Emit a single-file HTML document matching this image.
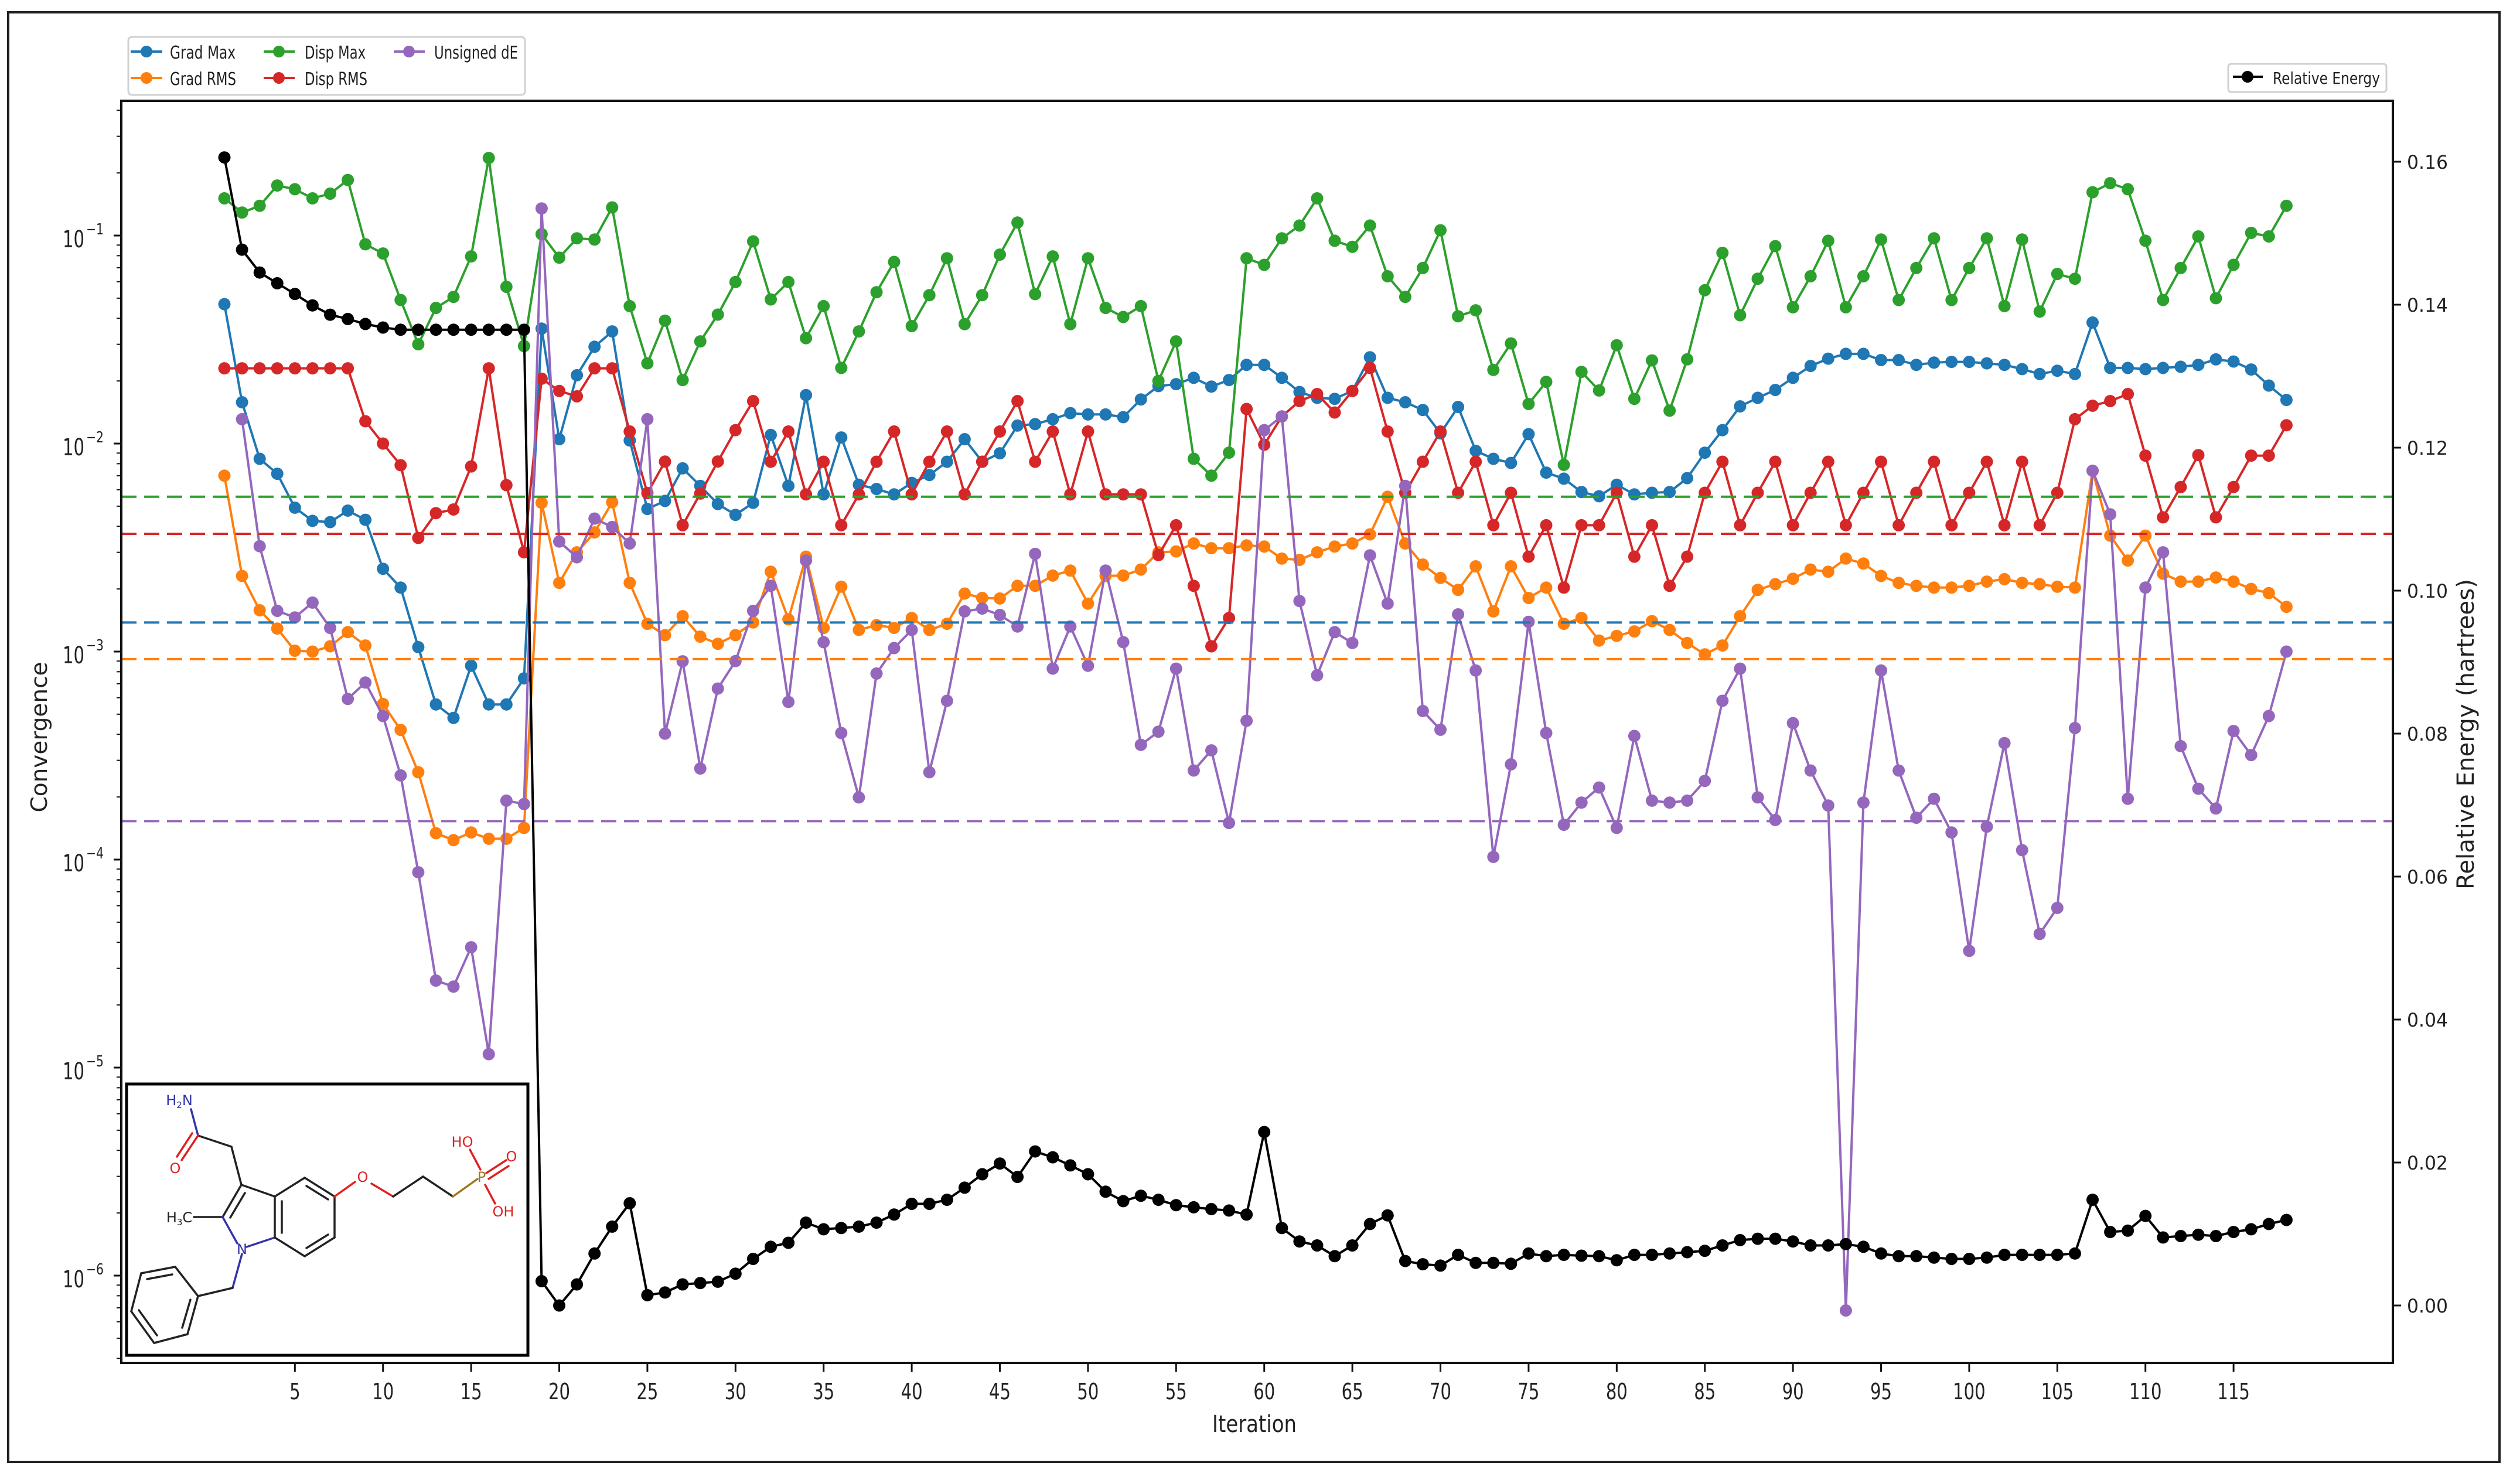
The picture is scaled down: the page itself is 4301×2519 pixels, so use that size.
<!DOCTYPE html>
<html><head><meta charset="utf-8"><title>Optimization Convergence</title>
<style>html,body{margin:0;padding:0;background:#fff}svg{display:block}text{font-family:"DejaVu Sans","Liberation Sans",sans-serif}</style>
</head><body>
<svg id="chart" xmlns="http://www.w3.org/2000/svg" width="4301" height="2519" viewBox="0 0 4301 2519">
<rect x="0" y="0" width="4301" height="2519" fill="#fff"/>
<rect x="14" y="21" width="4252" height="2474" fill="none" stroke="#222" stroke-width="4"/>
<g id="marks"></g>
<g id="axes"></g>
<text x="0" y="0" transform="translate(80,1258) rotate(-90)" font-size="38" text-anchor="middle" textLength="257" lengthAdjust="spacingAndGlyphs" fill="#222">Convergence</text>
<text x="2141" y="2444" font-size="40" text-anchor="middle" textLength="144" lengthAdjust="spacingAndGlyphs" fill="#222">Iteration</text>
<text x="0" y="0" transform="translate(4222,1253) rotate(-90)" font-size="40" text-anchor="middle" textLength="530" lengthAdjust="spacingAndGlyphs" fill="#222">Relative Energy (hartrees)</text>
<g>
<rect x="219" y="63" width="677" height="99" rx="6" fill="#fff" stroke="#d0d0d0" stroke-width="3"/>
<g><line x1="223" y1="88" x2="277" y2="88" stroke="#1f77b4" stroke-width="4"/><circle cx="250" cy="88" r="10" fill="#1f77b4"/><text x="290" y="100" font-size="30" textLength="112" lengthAdjust="spacingAndGlyphs" fill="#222">Grad Max</text></g>
<g><line x1="223" y1="133" x2="277" y2="133" stroke="#ff7f0e" stroke-width="4"/><circle cx="250" cy="133" r="10" fill="#ff7f0e"/><text x="290" y="145" font-size="30" textLength="113" lengthAdjust="spacingAndGlyphs" fill="#222">Grad RMS</text></g>
<g><line x1="450" y1="88" x2="503" y2="88" stroke="#2ca02c" stroke-width="4"/><circle cx="476" cy="88" r="10" fill="#2ca02c"/><text x="520" y="100" font-size="30" textLength="104" lengthAdjust="spacingAndGlyphs" fill="#222">Disp Max</text></g>
<g><line x1="450" y1="133" x2="503" y2="133" stroke="#d62728" stroke-width="4"/><circle cx="476" cy="133" r="10" fill="#d62728"/><text x="520" y="145" font-size="30" textLength="107" lengthAdjust="spacingAndGlyphs" fill="#222">Disp RMS</text></g>
<g><line x1="672" y1="88" x2="725" y2="88" stroke="#9467bd" stroke-width="4"/><circle cx="698" cy="88" r="10" fill="#9467bd"/><text x="741" y="100" font-size="30" textLength="143" lengthAdjust="spacingAndGlyphs" fill="#222">Unsigned dE</text></g>
</g>
<g>
<rect x="3803" y="109" width="270" height="48" rx="5" fill="#fff" stroke="#d0d0d0" stroke-width="3"/>
<g><line x1="3811" y1="131" x2="3862" y2="131" stroke="#000" stroke-width="4"/><circle cx="3836" cy="131" r="10" fill="#000"/><text x="3879" y="143" font-size="28" textLength="183" lengthAdjust="spacingAndGlyphs" fill="#222">Relative Energy</text></g>
</g>
<g>
<rect x="216" y="1850" width="685" height="463" fill="#fff" stroke="#000" stroke-width="5"/>
<g stroke="#222" stroke-width="3.5" fill="none" stroke-linecap="round">
<line x1="326" y1="1893" x2="338" y2="1938" stroke="#3333aa"/>
<line x1="338" y1="1938" x2="395" y2="1957"/>
<line x1="338" y1="1938" x2="310" y2="1980" stroke="#e02020"/>
<line x1="328" y1="1934" x2="302" y2="1974" stroke="#e02020"/>
<line x1="395" y1="1957" x2="412" y2="2022"/>
<line x1="412" y1="2022" x2="469" y2="2042"/>
<line x1="412" y1="2022" x2="380" y2="2077"/>
<line x1="418" y1="2036" x2="393" y2="2078"/>
<line x1="380" y1="2077" x2="331" y2="2077"/>
<line x1="380" y1="2077" x2="405" y2="2122" stroke="#3333aa"/>
<line x1="421" y1="2128" x2="469" y2="2112" stroke="#3333aa"/>
<line x1="469" y1="2042" x2="520" y2="2010"/>
<line x1="520" y1="2010" x2="571" y2="2042"/>
<line x1="523" y1="2024" x2="560" y2="2047"/>
<line x1="571" y1="2042" x2="571" y2="2112"/>
<line x1="571" y1="2112" x2="520" y2="2144"/>
<line x1="560" y1="2107" x2="523" y2="2130"/>
<line x1="520" y1="2144" x2="469" y2="2112"/>
<line x1="469" y1="2112" x2="469" y2="2042"/>
<line x1="481" y1="2104" x2="481" y2="2050"/>
<line x1="571" y1="2042" x2="606" y2="2017" stroke="#e02020"/>
<line x1="634" y1="2020" x2="671" y2="2042" stroke="#e02020"/>
<line x1="671" y1="2042" x2="722" y2="2008"/>
<line x1="722" y1="2008" x2="773" y2="2042"/>
<line x1="773" y1="2042" x2="815" y2="2012" stroke="#a07820"/>
<line x1="820" y1="1996" x2="802" y2="1962" stroke="#e02020"/>
<line x1="830" y1="2002" x2="864" y2="1980" stroke="#e02020"/>
<line x1="834" y1="2012" x2="868" y2="1990" stroke="#e02020"/>
<line x1="828" y1="2022" x2="845" y2="2054" stroke="#e02020"/>
<line x1="413" y1="2140" x2="397" y2="2198" stroke="#3333aa"/>
<line x1="397" y1="2198" x2="338" y2="2212"/>
<line x1="338" y1="2212" x2="299" y2="2162"/>
<line x1="299" y1="2162" x2="241" y2="2173"/>
<line x1="294" y1="2175" x2="251" y2="2183"/>
<line x1="241" y1="2173" x2="224" y2="2238"/>
<line x1="224" y1="2238" x2="263" y2="2292"/>
<line x1="237" y1="2236" x2="268" y2="2279"/>
<line x1="263" y1="2292" x2="320" y2="2277"/>
<line x1="320" y1="2277" x2="338" y2="2212"/>
<line x1="311" y1="2266" x2="325" y2="2218"/>
</g>
<g font-size="24" text-anchor="middle">
<text x="306" y="1886" fill="#3333aa">H<tspan font-size="15" dy="5">2</tspan><tspan dy="-5">N</tspan></text>
<text x="299" y="2002" fill="#e02020">O</text>
<text x="619" y="2017" fill="#e02020">O</text>
<text x="822" y="2017" fill="#a07820">P</text>
<text x="789" y="1957" fill="#e02020">HO</text>
<text x="873" y="1982" fill="#e02020">O</text>
<text x="859" y="2076" fill="#e02020">OH</text>
<text x="413" y="2140" fill="#3333aa">N</text>
<text x="306" y="2086" fill="#222">H<tspan font-size="15" dy="5">3</tspan><tspan dy="-5">C</tspan></text>
</g>
</g>
</svg>
<script>
// ---- data ----
const iterations = Array.from({length:118},(_,k)=>k+1);
const gradMax = [0.0468,0.0158,0.00845,0.00716,0.00492,0.00425,0.00419,0.00476,0.0043,0.0025,0.00203,0.00105,0.000557,0.00048,0.000855,0.000557,0.000557,0.000743,0.0357,0.0105,0.0213,0.0292,0.0346,0.01035,0.00485,0.0053,0.0076,0.00626,0.00512,0.00454,0.00519,0.011,0.00626,0.0171,0.0057,0.0107,0.00634,0.00605,0.0057,0.00647,0.00706,0.00818,0.0105,0.00818,0.00898,0.0122,0.0124,0.0131,0.014,0.0138,0.0138,0.0134,0.0163,0.0189,0.0193,0.0207,0.0188,0.0202,0.0239,0.0239,0.0207,0.0177,0.0166,0.0164,0.0179,0.026,0.0166,0.0158,0.0145,0.0112,0.015,0.00923,0.00845,0.00807,0.0111,0.00725,0.00678,0.00585,0.00558,0.00634,0.0057,0.0058,0.00585,0.00682,0.00904,0.0116,0.0151,0.0166,0.0181,0.0207,0.0236,0.0256,0.027,0.027,0.0252,0.0252,0.0239,0.0245,0.0247,0.0247,0.0243,0.0239,0.0228,0.0216,0.0224,0.0216,0.0382,0.0231,0.0231,0.0228,0.0231,0.0234,0.0239,0.0254,0.0248,0.0227,0.019,0.0162];
const gradRms = [0.00701,0.00231,0.00158,0.00129,0.00101,0.001,0.00106,0.00124,0.00107,0.00056,0.00042,0.000263,0.000134,0.000124,0.000135,0.000126,0.000126,0.000142,0.00519,0.00214,0.003,0.00374,0.00522,0.00214,0.00136,0.0012,0.00148,0.00118,0.00109,0.0012,0.00138,0.00242,0.00143,0.00286,0.0013,0.00205,0.00127,0.00134,0.0013,0.00145,0.00127,0.00136,0.0019,0.00181,0.0018,0.00207,0.00207,0.00232,0.00245,0.0017,0.00231,0.00232,0.00248,0.003,0.00303,0.00331,0.00314,0.00314,0.00324,0.0032,0.0028,0.00276,0.003,0.0032,0.00331,0.00366,0.00555,0.00331,0.00262,0.00226,0.00198,0.00257,0.00156,0.00257,0.00181,0.00203,0.00136,0.00145,0.00113,0.00119,0.00125,0.0014,0.00127,0.0011,0.00097,0.00107,0.00148,0.00198,0.00211,0.00224,0.00248,0.00242,0.0028,0.00265,0.00231,0.00214,0.00207,0.00203,0.00203,0.00207,0.00217,0.00223,0.00214,0.00211,0.00205,0.00203,0.0074,0.00361,0.00274,0.00361,0.00237,0.00217,0.00217,0.00227,0.00217,0.002,0.00191,0.00164];
const dispMax = [0.151,0.129,0.139,0.174,0.167,0.151,0.159,0.185,0.0908,0.082,0.049,0.03,0.0449,0.0507,0.0794,0.236,0.0567,0.0294,0.1016,0.0783,0.097,0.0957,0.1365,0.0458,0.0243,0.039,0.0202,0.031,0.0417,0.0598,0.0938,0.0493,0.0598,0.0321,0.0458,0.0231,0.0346,0.0534,0.0747,0.0367,0.0517,0.0778,0.0375,0.0517,0.081,0.1155,0.0523,0.0794,0.0375,0.0778,0.0449,0.0406,0.0458,0.02,0.031,0.00845,0.00701,0.00904,0.0778,0.0723,0.097,0.1117,0.151,0.0944,0.0883,0.1117,0.0637,0.0507,0.0698,0.106,0.0409,0.0437,0.0226,0.0303,0.0155,0.0198,0.0079,0.0221,0.018,0.0297,0.0164,0.0251,0.0144,0.0254,0.0546,0.0826,0.0414,0.062,0.0889,0.0452,0.0637,0.0944,0.0452,0.0637,0.0957,0.049,0.0698,0.097,0.049,0.0698,0.097,0.0458,0.0957,0.0431,0.0654,0.062,0.1615,0.1786,0.167,0.0944,0.049,0.0698,0.099,0.05,0.0723,0.103,0.099,0.139];
const dispRms = [0.023,0.023,0.023,0.023,0.023,0.023,0.023,0.023,0.0128,0.01,0.00787,0.00352,0.00463,0.00482,0.00776,0.023,0.00631,0.003,0.0205,0.0179,0.01687,0.023,0.023,0.01143,0.00578,0.00819,0.00405,0.00575,0.0082,0.0116,0.016,0.00818,0.01143,0.0057,0.00818,0.00405,0.0057,0.00818,0.01143,0.0057,0.00818,0.01143,0.0057,0.00818,0.01143,0.016,0.00818,0.01143,0.0057,0.01143,0.0057,0.0057,0.0057,0.00291,0.00405,0.00207,0.00106,0.00145,0.01466,0.00987,0.0135,0.016,0.0173,0.0141,0.0179,0.0231,0.01143,0.0058,0.00818,0.01143,0.0058,0.00818,0.00405,0.0058,0.00286,0.00405,0.00203,0.00405,0.00405,0.0058,0.00286,0.00405,0.00207,0.00286,0.0058,0.00818,0.00405,0.0058,0.00818,0.00405,0.0058,0.00818,0.00405,0.0058,0.00818,0.00405,0.0058,0.00818,0.00405,0.0058,0.00818,0.00405,0.00818,0.00405,0.0058,0.0131,0.0152,0.016,0.0173,0.00875,0.00442,0.00618,0.0088,0.00442,0.00618,0.00875,0.00875,0.01225];
const unsignedDE = [null,0.0131,0.00321,0.00157,0.00146,0.00172,0.0013,0.000592,0.00071,0.00049,0.000254,0.0000869,0.0000262,0.0000245,0.0000379,0.0000116,0.000192,0.000185,0.135,0.00338,0.00284,0.00436,0.00397,0.00331,0.0131,0.000403,0.000898,0.000274,0.000664,0.0009,0.00157,0.00207,0.000573,0.00274,0.00111,0.000406,0.000199,0.000784,0.00104,0.00127,0.000263,0.00058,0.00156,0.00161,0.0015,0.00132,0.00295,0.000828,0.00132,0.000855,0.00245,0.00111,0.000356,0.000412,0.000828,0.000268,0.000335,0.00015,0.000465,0.0116,0.0135,0.00175,0.000769,0.00124,0.0011,0.0029,0.0017,0.00626,0.000518,0.000421,0.00151,0.000811,0.000103,0.000287,0.00139,0.000406,0.000147,0.000188,0.000222,0.000142,0.000393,0.000192,0.000188,0.000192,0.000239,0.00058,0.000828,0.000199,0.000155,0.000453,0.000268,0.000182,0.00000068,0.000188,0.000811,0.000268,0.000159,0.000196,0.000135,0.0000364,0.000144,0.000363,0.000111,0.0000439,0.0000586,0.000429,0.0074,0.00457,0.000196,0.00203,0.003,0.000351,0.000219,0.000176,0.000415,0.000318,0.00049,0.001];
const relEnergy = [0.1606,0.1477,0.1445,0.143,0.1415,0.1399,0.1386,0.138,0.1373,0.1368,0.1365,0.1365,0.1365,0.1365,0.1365,0.1365,0.1365,0.1365,0.0034,0.0,0.00295,0.00727,0.01103,0.0143,0.00144,0.00182,0.00295,0.00314,0.00333,0.00445,0.00652,0.00821,0.00877,0.01159,0.01066,0.01084,0.01103,0.01159,0.01272,0.01422,0.01422,0.01479,0.01648,0.01836,0.01986,0.01798,0.02155,0.02073,0.0196,0.01836,0.01592,0.0146,0.01535,0.01479,0.01403,0.01374,0.01348,0.01329,0.01272,0.02426,0.01084,0.00896,0.0084,0.0069,0.0084,0.0114,0.01261,0.00622,0.00577,0.00558,0.00708,0.00596,0.00596,0.00584,0.00727,0.0069,0.00708,0.00697,0.0069,0.00633,0.00708,0.00708,0.00727,0.00746,0.00765,0.0084,0.00915,0.00934,0.00934,0.00896,0.0084,0.0084,0.00859,0.00821,0.00727,0.0069,0.0069,0.0067,0.00652,0.00652,0.0067,0.00708,0.00708,0.00708,0.00708,0.00727,0.01479,0.01028,0.01047,0.01253,0.00952,0.00971,0.0099,0.00971,0.01028,0.01066,0.0114,0.01197];
const thresholdValues = [0.00555,0.00368,0.00138,0.00092,0.000153];
const thresholdNames = ['disp-max-threshold','disp-rms-threshold','grad-max-threshold','grad-rms-threshold','unsigned-de-threshold'];
const xTicks = [5,10,15,20,25,30,35,40,45,50,55,60,65,70,75,80,85,90,95,100,105,110,115];
const logTickExps = [-1,-2,-3,-4,-5,-6];
const energyTicks = [0,0.02,0.04,0.06,0.08,0.10,0.12,0.14,0.16];
const energyTickLabels = ['0.00','0.02','0.04','0.06','0.08','0.10','0.12','0.14','0.16'];

// ---- axis functions ----
const L=207,R=4084,T=172,B=2326;
function xs(i){return 383+(i-1)*30.08;}
function yl(v){return 402+(-1-Math.log10(v))*355;}
function ye(v){return 2228-v*12200;}

const NS='http://www.w3.org/2000/svg';
function mk(tag,attrs,parent){const e=document.createElementNS(NS,tag);for(const k in attrs)e.setAttribute(k,attrs[k]);parent.appendChild(e);return e;}
const marks=document.getElementById('marks');
const axes=document.getElementById('axes');

const defs=mk('defs',{},marks);
const cp=mk('clipPath',{id:'plotclip'},defs);
mk('rect',{x:L,y:T,width:R-L,height:B-T},cp);

const colors={gm:'#1f77b4',gr:'#ff7f0e',dm:'#2ca02c',dr:'#d62728',de:'#9467bd'};
const seriesList=[[gradMax,colors.gm,'grad-max'],[gradRms,colors.gr,'grad-rms'],[dispMax,colors.dm,'disp-max'],[dispRms,colors.dr,'disp-rms'],[unsignedDE,colors.de,'unsigned-de']];
const clipG=mk('g',{'clip-path':'url(#plotclip)'},marks);



function drawSeries(vals,color,name,yf,parent){
  const g=mk('g',{},parent);
  
  
  const pts=[];
  vals.forEach((v,k)=>{if(v!==null)pts.push([xs(iterations[k]),yf(v)]);});
  const pl=mk('polyline',{points:pts.map(p=>p[0].toFixed(1)+','+p[1].toFixed(1)).join(' '),fill:'none',stroke:color,'stroke-width':4,'stroke-linejoin':'round'},g);
  
  
  vals.forEach((v,k)=>{
    if(v===null)return;
    const c=mk('circle',{cx:xs(iterations[k]).toFixed(1),cy:yf(v).toFixed(1),r:10.5,fill:color},g);
    
    
  });
}
seriesList.forEach(s=>drawSeries(s[0],s[1],s[2],yl,clipG));

const thrColors=[colors.dm,colors.dr,colors.gm,colors.gr,colors.de];
thresholdValues.forEach((v,k)=>{
  const ln=mk('line',{x1:L,x2:R,y1:yl(v),y2:yl(v),stroke:thrColors[k],'stroke-width':4,'stroke-dasharray':'26 13'},clipG);
  
  
});

drawSeries(relEnergy,'#000','relative-energy',ye,clipG);

const fr=mk('rect',{x:L,y:T,width:R-L,height:B-T,fill:'none',stroke:'#111','stroke-width':4},axes);



xTicks.forEach(t=>{
  const x=xs(t);
  const tk=mk('line',{x1:x,x2:x,y1:B,y2:B+15,stroke:'#111','stroke-width':3},axes);
  
  
  const tx=mk('text',{x:x,y:2388,'font-size':38,'text-anchor':'middle',fill:'#222',textLength:String(t).length*18.5,lengthAdjust:'spacingAndGlyphs'},axes);
  tx.textContent=String(t);
  
  
});

logTickExps.forEach(e=>{
  const y=yl(Math.pow(10,e));
  const tk=mk('line',{x1:L-13,x2:L,y1:y,y2:y,stroke:'#111','stroke-width':3},axes);
  
  
  const tx=mk('text',{x:107,y:y+20,'font-size':40,fill:'#222',textLength:37,lengthAdjust:'spacingAndGlyphs'},axes);
  tx.textContent='10';
  
  
  const sx=mk('text',{x:147,y:y-2,'font-size':26,fill:'#222',textLength:30,lengthAdjust:'spacingAndGlyphs'},axes);
  sx.textContent='\u2212'+Math.abs(e);
  
  
});
for(let e=0;e>=-7;e--){
  for(let m=2;m<=9;m++){
    const v=m*Math.pow(10,e-1);
    const y=yl(v);
    if(y<T||y>B)continue;
    const tk=mk('line',{x1:L-8,x2:L,y1:y,y2:y,stroke:'#111','stroke-width':2},axes);
    
    
  }
}

energyTicks.forEach((v,k)=>{
  const y=ye(v);
  const tk=mk('line',{x1:R,x2:R+14,y1:y,y2:y,stroke:'#111','stroke-width':3},axes);
  
  
  const tx=mk('text',{x:4108,y:y+12,'font-size':32,fill:'#222',textLength:70,lengthAdjust:'spacingAndGlyphs'},axes);
  tx.textContent=energyTickLabels[k];
  
  
});
</script>
</body></html>
